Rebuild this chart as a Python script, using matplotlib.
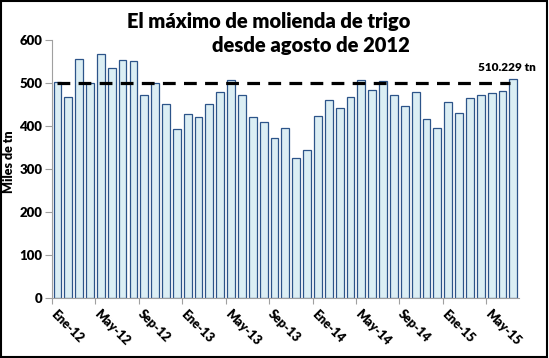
"""Molienda de trigo mensual, Ene-12 a Jul-15, con el promedio de 500 marcado."""

import numpy as np
import matplotlib.pyplot as plt

plt.rcParams['font.family'] = ['Lato', 'DejaVu Sans']

months = ['Ene', 'Feb', 'Mar', 'Abr', 'May', 'Jun', 'Jul', 'Ago',
          'Sep', 'Oct', 'Nov', 'Dic']
labels = [f'{m}-{y}' for y in (12, 13, 14, 15) for m in months][:43]

molienda = [502, 467, 555, 499, 567, 535, 553, 550, 471, 501, 452, 392,
            428, 422, 452, 478, 508, 473, 422, 410, 371, 395, 325, 344,
            424, 460, 443, 468, 506, 484, 505, 472, 447, 478, 416, 395,
            455, 430, 464, 471, 477, 482, 510.229]
referencia = 500
ultimo_txt = '510.229 tn'


def main():
    fig = plt.figure(figsize=(5.49, 3.58), dpi=100)
    ax = fig.add_axes([0.0947, 0.1676, 0.8503, 0.7207])

    x = np.arange(len(molienda))
    ax.bar(x, molienda, width=0.72, color='#dbeef4', edgecolor='#2c5489',
           linewidth=0.9, zorder=2)
    ax.plot([0, len(molienda) - 1.3], [referencia, referencia], color='black',
            lw=2.3, dashes=(4, 2.6), zorder=3)
    ax.annotate(ultimo_txt, (x[-1], molienda[-1]), xytext=(16, 4),
                textcoords='offset points', ha='right', va='bottom',
                fontsize=8.5, fontweight='heavy')

    ax.set_xlim(-0.5, len(molienda) - 0.5)
    ax.set_ylim(0, 600)
    ax.set_yticks(range(0, 601, 100))
    ax.set_xticks(np.arange(-0.5, len(molienda), 4))
    ax.set_xticklabels([])
    ax.set_xticks(x[::4], minor=True)
    ax.set_xticklabels(labels[::4], minor=True, rotation=-45, ha='left',
                       va='top', rotation_mode='anchor', fontsize=9,
                       fontweight='heavy')
    ax.tick_params(axis='x', which='minor', length=0, pad=7)
    ax.tick_params(axis='x', which='major', length=4, color='#a0a0a0')
    ax.tick_params(axis='y', length=5, pad=2, color='#a0a0a0', labelsize=9.5)
    for t in ax.get_yticklabels():
        t.set_fontweight('heavy')
    for s in ('top', 'right'):
        ax.spines[s].set_visible(False)
    for s in ('left', 'bottom'):
        ax.spines[s].set_color('#a0a0a0')
    ax.set_ylabel('Miles de tn', fontsize=9, fontweight='heavy')
    ax.yaxis.set_label_coords(-0.079, 0.53)

    fig.text(0.747, 0.94, 'El máximo de molienda de trigo', ha='right',
             va='center', fontsize=14.5, fontweight='heavy')
    fig.text(0.747, 0.873, 'desde agosto de 2012', ha='right', va='center',
             fontsize=14.5, fontweight='heavy')

    fig.patches.append(plt.Rectangle((0.002, 0.003), 0.995, 0.994,
                                     transform=fig.transFigure, fill=False,
                                     edgecolor='black', lw=1.5))
    fig.savefig('out.png', dpi=100)


main()
